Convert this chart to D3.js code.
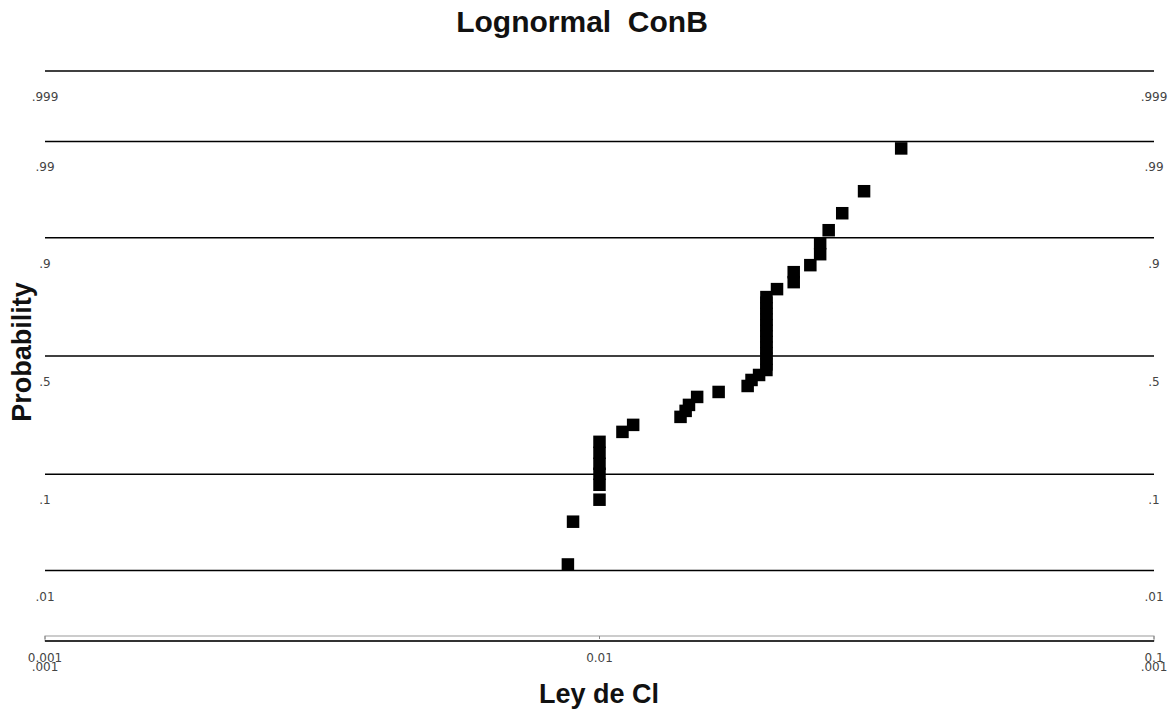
<!DOCTYPE html>
<html>
<head>
<meta charset="utf-8">
<script src="https://cdn.jsdelivr.net/npm/d3@7"></script>
<style>
  body { margin: 0; background: #fff; }
  svg { display: block; }
</style>
</head>
<body>
<div id="chart"></div>
<script>
// valores
const probTicks = [0.001, 0.01, 0.1, 0.5, 0.9, 0.99, 0.999];
const probLabels = [".001", ".01", ".1", ".5", ".9", ".99", ".999"];
const xTicks = [0.001, 0.01, 0.1];
const xTickLabels = ["0.001", "0.01", "0.1"];

const leyCl = [
  0.00877, 0.00896, 0.01, 0.01, 0.01, 0.01, 0.01, 0.01,
  0.0110, 0.0115, 0.0140, 0.0143, 0.0145, 0.0150, 0.0164,
  0.0185, 0.0188, 0.0194,
  0.02, 0.02, 0.02, 0.02, 0.02, 0.02, 0.02, 0.02, 0.02, 0.02, 0.02, 0.02, 0.02, 0.02,
  0.0209, 0.0224, 0.0224, 0.0240, 0.025, 0.025, 0.0259, 0.0274, 0.03, 0.035
];
const probability = [
  0.0119, 0.0362, 0.0596, 0.0813, 0.1008, 0.1212, 0.1469, 0.1760,
  0.2053, 0.2276, 0.2546, 0.2759, 0.2980, 0.3286, 0.3483,
  0.3726, 0.3975, 0.4185,
  0.4397, 0.4638, 0.4880, 0.5120, 0.5367, 0.5607, 0.5843, 0.6080, 0.6309, 0.6536, 0.6760, 0.6977, 0.7184, 0.7385,
  0.7658, 0.7884, 0.8183, 0.8377, 0.8652, 0.8893, 0.9137, 0.9392, 0.9630, 0.9878
];

const width = 1172, height = 724;
const left = 45, right = 1154;

// inversa de la normal (Acklam)
function probit(p) {
  const a = [-39.69683028665376, 220.9460984245205, -275.9285104469687, 138.3577518672690, -30.66479806614716, 2.506628277459239];
  const b = [-54.47609879822406, 161.5858368580409, -155.6989798598866, 66.80131188771972, -13.28068155288572];
  const c = [-0.007784894002430293, -0.3223964580411365, -2.400758277161838, -2.549732539343734, 4.374664141464968, 2.938163982698783];
  const d = [0.007784695709041462, 0.3224671290700398, 2.445134137142996, 3.754408661907416];
  const pl = 0.02425, ph = 1 - pl;
  let q, r;
  if (p < pl) {
    q = Math.sqrt(-2 * Math.log(p));
    return (((((c[0]*q+c[1])*q+c[2])*q+c[3])*q+c[4])*q+c[5]) / ((((d[0]*q+d[1])*q+d[2])*q+d[3])*q+1);
  }
  if (p <= ph) {
    q = p - 0.5; r = q * q;
    return (((((a[0]*r+a[1])*r+a[2])*r+a[3])*r+a[4])*r+a[5])*q / (((((b[0]*r+b[1])*r+b[2])*r+b[3])*r+b[4])*r+1);
  }
  q = Math.sqrt(-2 * Math.log(1 - p));
  return -(((((c[0]*q+c[1])*q+c[2])*q+c[3])*q+c[4])*q+c[5]) / ((((d[0]*q+d[1])*q+d[2])*q+d[3])*q+1);
}

const svg = d3.select('#chart').append('svg')
  .attr('width', width)
  .attr('height', height);

svg.append('rect').attr('width', width).attr('height', height).attr('fill', '#fff');

const xScale = d3.scaleLog().domain([0.001, 0.1]).range([left, right]);
const zScale = d3.scaleLinear().domain([probit(0.001), probit(0.999)]).range([641, 71]);
const yScale = p => zScale(probit(p));

// lineas de probabilidad
svg.append('g')
  .selectAll('line')
  .data(probTicks.filter(p => p > 0.001))
  .join('line')
    .attr('x1', left)
    .attr('x2', right)
    .attr('y1', d => yScale(d))
    .attr('y2', d => yScale(d))
    .attr('stroke', '#000')
    .attr('stroke-width', 1.5);

// etiquetas izquierda y derecha
[left, right].forEach(xPos => {
  svg.append('g')
    .selectAll('text')
    .data(probTicks)
    .join('text')
      .attr('x', xPos)
      .attr('y', d => yScale(d) + 30)
      .attr('text-anchor', 'middle')
      .attr('font-family', 'DejaVu Sans, sans-serif')
      .attr('font-size', 12)
      .attr('fill', '#444')
      .text((d, i) => probLabels[i]);
});

// eje x
const axisY = yScale(0.001);
svg.append('rect')
  .attr('x', left)
  .attr('y', axisY - 5)
  .attr('width', right - left)
  .attr('height', 5)
  .attr('fill', '#fff')
  .attr('stroke', '#999')
  .attr('stroke-width', 1);
svg.append('line')
  .attr('x1', left).attr('x2', right)
  .attr('y1', axisY).attr('y2', axisY)
  .attr('stroke', '#000').attr('stroke-width', 1.5);
svg.append('g')
  .selectAll('line')
  .data(xTicks)
  .join('line')
    .attr('x1', d => xScale(d)).attr('x2', d => xScale(d))
    .attr('y1', axisY - 5).attr('y2', axisY - 2)
    .attr('stroke', '#888');
svg.append('g')
  .selectAll('text')
  .data(xTicks)
  .join('text')
    .attr('x', d => xScale(d))
    .attr('y', axisY + 21)
    .attr('text-anchor', 'middle')
    .attr('font-family', 'DejaVu Sans, sans-serif')
    .attr('font-size', 12)
    .attr('fill', '#444')
    .text((d, i) => xTickLabels[i]);

// puntos
const size = 12.5;
svg.append('g')
  .selectAll('rect')
  .data(leyCl.map((v, i) => ({ x: v, p: probability[i] })))
  .join('rect')
    .attr('x', d => xScale(d.x) - size / 2)
    .attr('y', d => yScale(d.p) - size / 2)
    .attr('width', size)
    .attr('height', size)
    .attr('fill', '#000');

// titulos
svg.append('text')
  .attr('x', 582)
  .attr('y', 32)
  .attr('text-anchor', 'middle')
  .attr('font-family', 'Liberation Sans, Arial, sans-serif')
  .attr('font-weight', 'bold')
  .attr('font-size', 30)
  .attr('fill', '#111')
  .attr('xml:space', 'preserve')
  .text('Lognormal  ConB');

svg.append('text')
  .attr('x', 599)
  .attr('y', 703)
  .attr('text-anchor', 'middle')
  .attr('font-family', 'Liberation Sans, Arial, sans-serif')
  .attr('font-weight', 'bold')
  .attr('font-size', 27)
  .attr('fill', '#111')
  .text('Ley de Cl');

svg.append('text')
  .attr('transform', 'translate(31,352) rotate(-90)')
  .attr('text-anchor', 'middle')
  .attr('font-family', 'Liberation Sans, Arial, sans-serif')
  .attr('font-weight', 'bold')
  .attr('font-size', 27)
  .attr('fill', '#111')
  .text('Probability');
</script>
</body>
</html>
